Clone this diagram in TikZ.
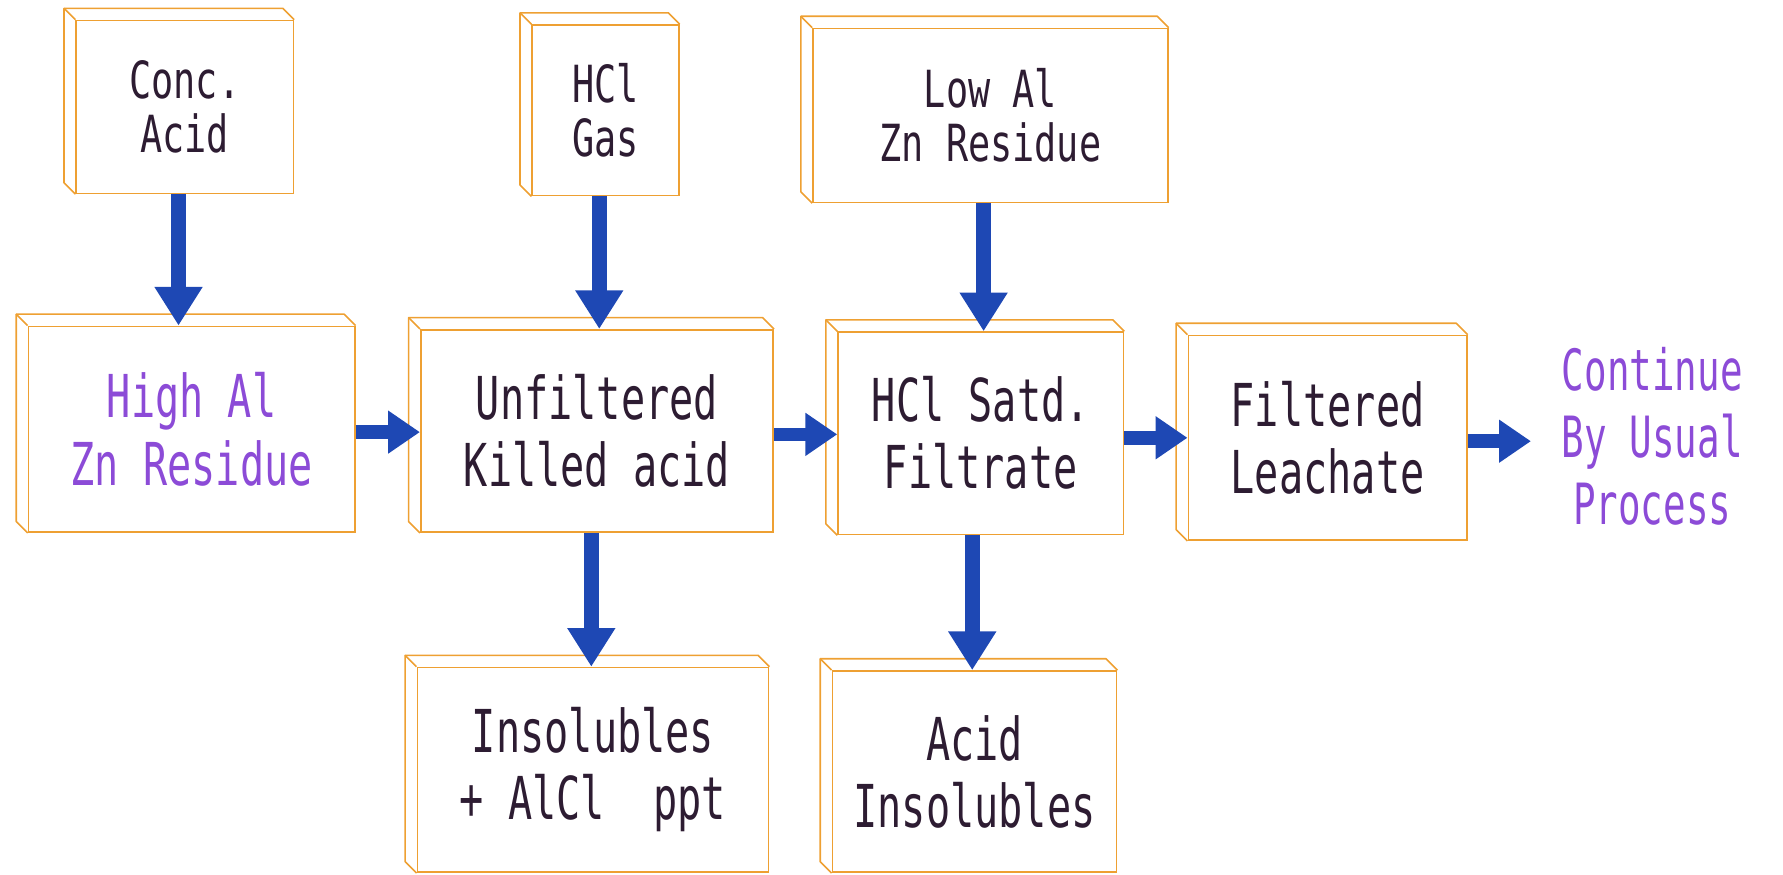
\documentclass[tikz,border=0pt]{standalone}
\usepackage{fontspec}
\newfontfamily\plotfont[FakeStretch=0.68]{DejaVu Sans Mono}
\newfontfamily\plotfontt[FakeStretch=0.72]{DejaVu Sans Mono}
\newfontfamily\plotfontn[FakeStretch=0.66]{DejaVu Sans Mono}
\usetikzlibrary{arrows.meta,calc}
\definecolor{boxorange}{RGB}{238,160,50}
\definecolor{arrowblue}{RGB}{30,72,180}
\definecolor{inkdark}{RGB}{45,28,50}
\definecolor{inkviolet}{RGB}{140,75,215}
\tikzset{
  slab/.style={draw=boxorange, line width=1.4pt, inner sep=0pt, align=center,
    text=inkdark, font=\plotfont\fontsize{52}{59}\selectfont},
  toprow/.style={font=\plotfontt\fontsize{45}{47}\selectfont},
  edge3d/.style={draw=boxorange, line width=1.4pt, line join=round},
  vflow/.style={draw=arrowblue, line width=13pt, -{Triangle[width=40pt,length=34pt]}},
  hflow/.style={draw=arrowblue, line width=12pt, -{Triangle[width=36pt,length=28pt]}},
  freetext/.style={inner sep=0pt, align=center, text=inkviolet, font=\plotfontn\fontsize{50}{59}\selectfont},
}
\newcommand\slabsides[1]{%
  \draw[edge3d] (#1.south west) -- ++(-10,-10) -- ($(#1.north west)+(-10,-10)$)
    -- ($(#1.north east)+(-10,-10)$) -- (#1.north east);
  \draw[edge3d] ($(#1.north west)+(-10,-10)$) -- (#1.north west);
}
\begin{document}
\begin{tikzpicture}[x=1pt,y=-1pt]
\useasboundingbox (0,0) rectangle (1568,769);
% top row
\node[slab,toprow,minimum width=191pt,minimum height=152pt] (conc) at (162.5,94) {Conc.\\Acid};
\node[slab,toprow,minimum width=129pt,minimum height=150pt] (hclgas) at (532.5,97) {HCl\\Gas};
\node[slab,toprow,minimum width=312pt,minimum height=153pt] (lowal) at (871,101.5) {Low Al\\Zn Residue};
% middle row
\node[slab,text=inkviolet,minimum width=287pt,minimum height=181pt] (high) at (168.5,377.5) {High Al\\Zn Residue};
\node[slab,minimum width=310pt,minimum height=178pt] (unf) at (525,379) {Unfiltered\\Killed acid};
\node[slab,minimum width=251pt,minimum height=178pt] (satd) at (862.5,381) {HCl Satd.\\Filtrate};
\node[slab,minimum width=245pt,minimum height=180pt] (filt) at (1167.5,385) {Filtered\\Leachate};
\node[freetext,inner xsep=27pt] (cont) at (1453,384) {Continue\\By Usual\\Process};
% bottom row
\node[slab,minimum width=309pt,minimum height=180pt] (insol) at (521.5,677) {Insolubles\\+~AlCl~~ppt};
\node[slab,minimum width=250pt,minimum height=177pt] (acidins) at (857,678.5) {Acid\\Insolubles};
\foreach \n in {conc,hclgas,lowal,high,unf,satd,filt,insol,acidins}{\slabsides{\n}}
% vertical connectors
\draw[vflow] ([xshift=-5.5pt]conc.south) -- ([xshift=-5.5pt]conc.south |- high.north);
\draw[vflow] ([xshift=-5.5pt]hclgas.south) -- ([xshift=-5.5pt]hclgas.south |- unf.north);
\draw[vflow] ([xshift=-6pt]lowal.south) -- ([xshift=-6pt]lowal.south |- satd.north);
\draw[vflow] ([xshift=-5pt]unf.south) -- ([xshift=-5pt]unf.south |- insol.north);
\draw[vflow] ([xshift=-7.5pt]satd.south) -- ([xshift=-7.5pt]satd.south |- acidins.north);
% horizontal connectors
\draw[hflow] ([yshift=-2.5pt]high.east) -- ([yshift=-2.5pt]high.east -| unf.west);
\draw[hflow] ([yshift=-3pt]unf.east) -- ([yshift=-3pt]unf.east -| satd.west);
\draw[hflow] ([yshift=-4pt]satd.east) -- ([yshift=-4pt]satd.east -| filt.west);
\draw[hflow] ([yshift=-3pt]filt.east) -- ([yshift=-3pt]filt.east -| cont.west);
\end{tikzpicture}
\end{document}
